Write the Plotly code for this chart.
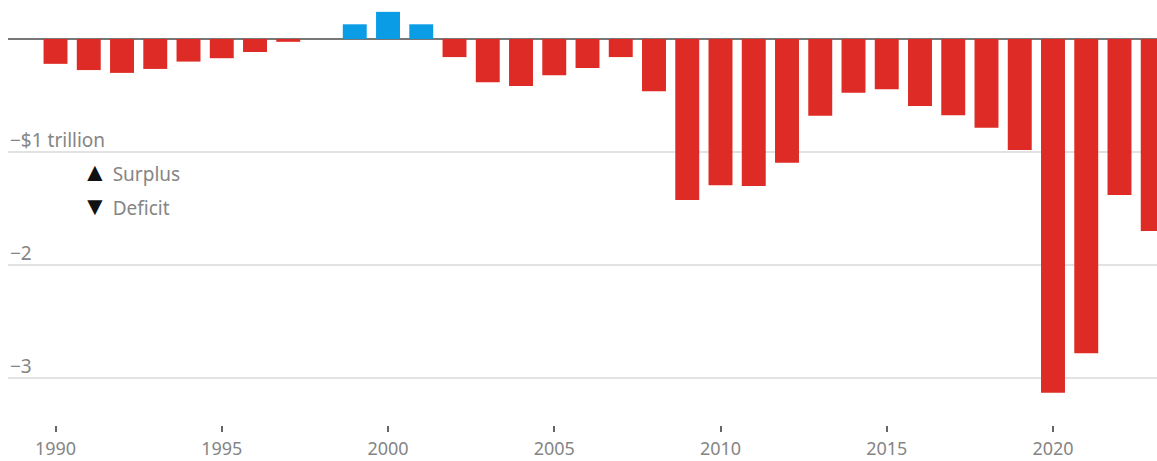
import plotly.graph_objects as go

years = list(range(1990, 2024))
balance = [-0.22, -0.275, -0.30, -0.265, -0.20, -0.17, -0.115, -0.025,
           0.0, 0.13, 0.24, 0.13, -0.16, -0.383, -0.416, -0.32, -0.257,
           -0.16, -0.463, -1.425, -1.295, -1.30, -1.095, -0.68, -0.475,
           -0.445, -0.593, -0.675, -0.785, -0.982, -3.13, -2.78, -1.38, -1.70]

y_tickvals = [-1, -2, -3]
y_ticktext = ["\u2212$1 trillion", "\u22122", "\u22123"]
x_tickvals = [1990, 1995, 2000, 2005, 2010, 2015, 2020]

RED = "#DE2B25"
BLUE = "#0A9DE6"
GREY = "#858585"
colors = [BLUE if v > 0 else RED for v in balance]

fig = go.Figure()
fig.add_trace(go.Bar(x=years, y=balance, marker=dict(color=colors, line=dict(width=0)),
                     hoverinfo="x+y"))

font = "Noto Sans, Open Sans, sans-serif"

annotations = []
for v, t in zip(y_tickvals, y_ticktext):
    annotations.append(dict(text=t, x=0, y=v, xref="paper", yref="y",
                            xanchor="left", yanchor="bottom", yshift=-3,
                            showarrow=False, font=dict(size=19, color=GREY, family=font)))
annotations += [
    dict(text="<span style='color:#111;font-size:26px'>\u25B2</span> Surplus", x=0.063, y=-1.17,
         xref="paper", yref="y", xanchor="left", yanchor="middle",
         showarrow=False, font=dict(size=19, color=GREY, family=font)),
    dict(text="<span style='color:#111;font-size:26px'>\u25BC</span> Deficit", x=0.063, y=-1.47,
         xref="paper", yref="y", xanchor="left", yanchor="middle",
         showarrow=False, font=dict(size=19, color=GREY, family=font)),
]

fig.update_layout(
    width=1157, height=461,
    margin=dict(l=8, r=0, t=0, b=36, pad=0),
    plot_bgcolor="white", paper_bgcolor="white",
    bargap=0.28, showlegend=False,
    font=dict(family=font, size=18, color=GREY),
    xaxis=dict(range=[1988.571, 2023.128], tickvals=x_tickvals,
               ticks="outside", ticklen=6, tickwidth=2, tickcolor="#666666",
               ticklabelstandoff=1,
               showgrid=False, zeroline=False, showline=False, automargin=False,
               tickfont=dict(size=18, color=GREY)),
    yaxis=dict(range=[-3.416, 0.345], tickvals=y_tickvals, showticklabels=False,
               ticks="", automargin=False,
               showgrid=True, gridcolor="#E2E2E2", gridwidth=2,
               zeroline=True, zerolinecolor="#777777", zerolinewidth=2,
               showline=False),
    annotations=annotations,
)

fig.write_html("out.html", config={"displayModeBar": False},
               post_script="document.body.style.margin='0';document.body.style.padding='0';"
                           "document.body.style.overflow='hidden';")
